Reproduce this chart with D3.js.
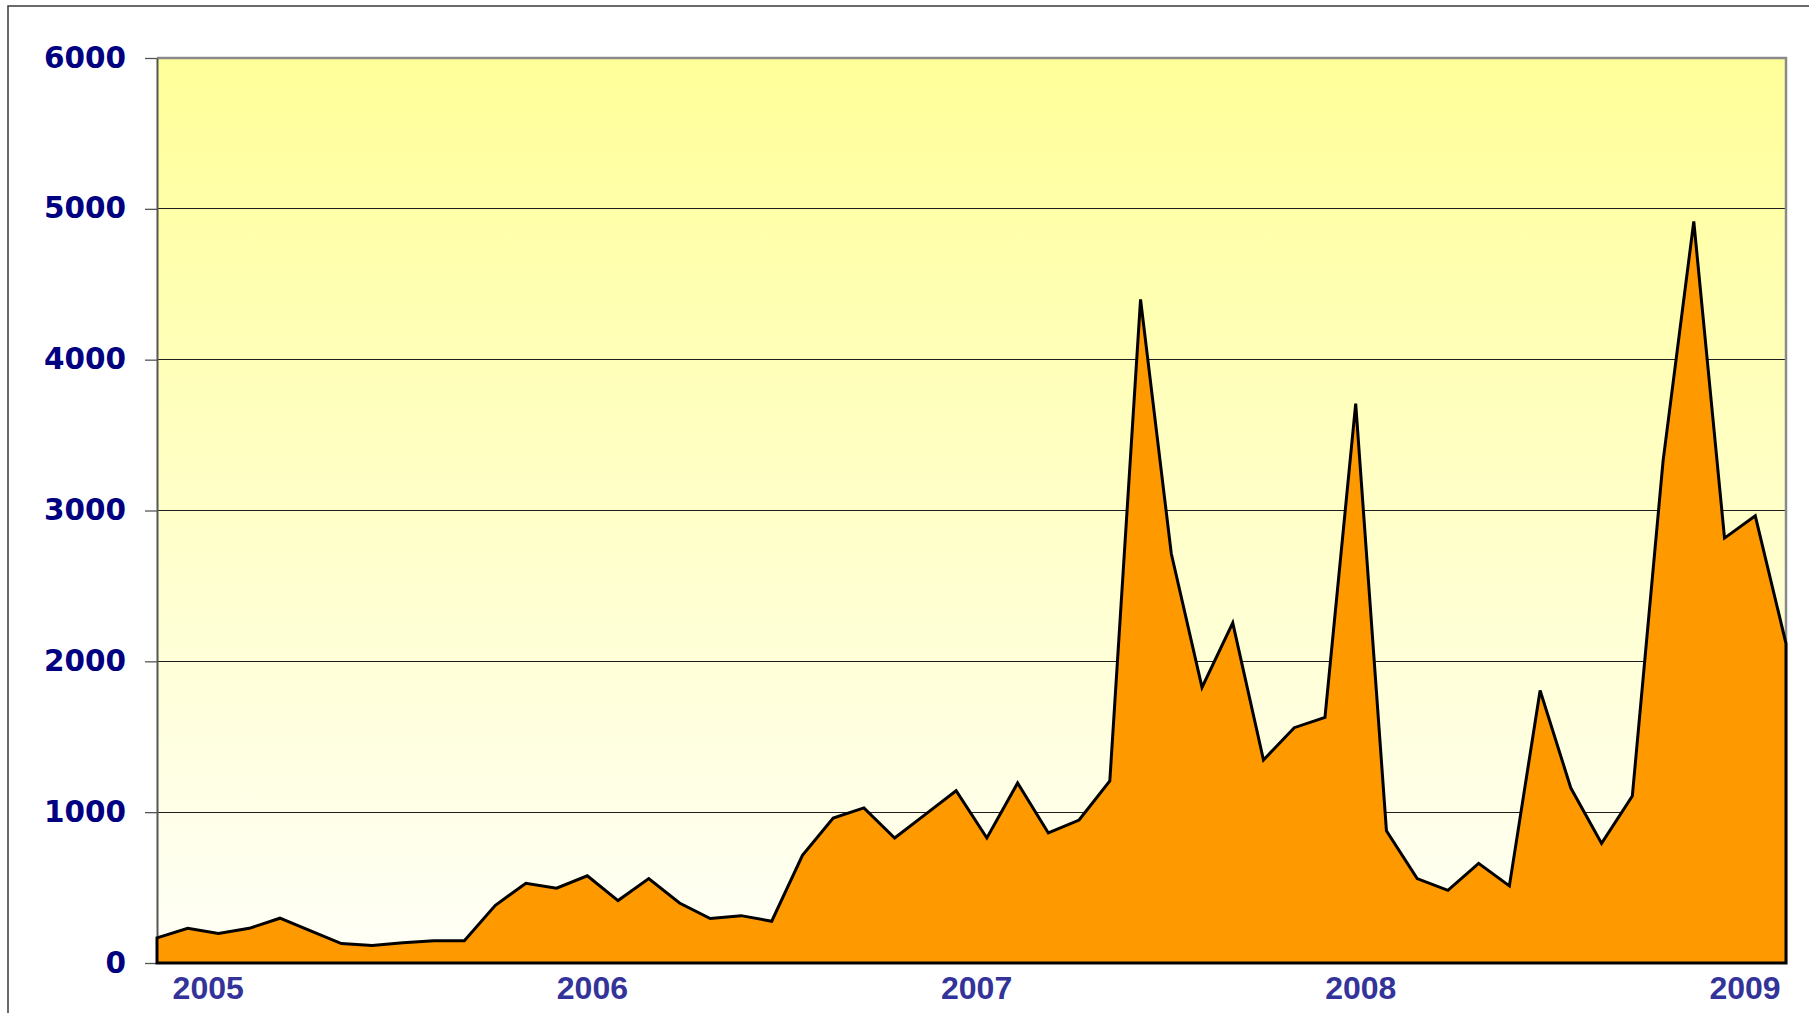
<!DOCTYPE html>
<html>
<head>
<meta charset="utf-8">
<script src="https://cdn.jsdelivr.net/npm/d3@7"></script>
<style>
    body { margin: 0; background: #fff; }
    svg { display: block; }
</style>
</head>
<body>
<svg id="chart"></svg>
<script>
// monthly values, one per point
const values = [167, 230, 195, 230, 297, 213, 129, 116, 134, 147,
    147, 381, 529, 496, 578, 414, 560, 398, 295, 314,
    277, 714, 961, 1028, 829, 985, 1142, 829, 1193, 862,
    948, 1207, 4400, 2715, 1827, 2255, 1346, 1560, 1628, 3708,
    877, 560, 482, 661, 511, 1807, 1160, 793, 1107, 3327,
    4917, 2817, 2965, 2118];
const yearLabels = ["2005", "2006", "2007", "2008", "2009"];
// where each year label sits, in point-index units
const yearPos = [1.65, 14.15, 26.65, 39.15, 51.65];
const yTicks = [0, 1000, 2000, 3000, 4000, 5000, 6000];

const width = 1809;
const height = 1013;
const margin = {top: 58, right: 23, bottom: 50, left: 157};

const svg = d3.select("#chart")
    .attr("width", width)
    .attr("height", height);

// outer frame, runs off the right and bottom edge like the original
svg.append("rect")
    .attr("x", 8).attr("y", 6)
    .attr("width", width).attr("height", height)
    .attr("fill", "none")
    .attr("stroke", "#3a3a3a")
    .attr("stroke-width", 1.5);

const x = d3.scaleLinear()
    .domain([0, values.length - 1])
    .range([margin.left, width - margin.right]);

const y = d3.scaleLinear()
    .domain([0, 6000])
    .range([height - margin.bottom, margin.top]);

// plot background gradient
const grad = svg.append("defs").append("linearGradient")
    .attr("id", "bg")
    .attr("x1", 0).attr("y1", 0).attr("x2", 0).attr("y2", 1);
grad.append("stop").attr("offset", "0%").attr("stop-color", "#FFFF99");
grad.append("stop").attr("offset", "100%").attr("stop-color", "#FFFFF8");

svg.append("rect")
    .attr("x", x.range()[0])
    .attr("y", y(6000))
    .attr("width", x.range()[1] - x.range()[0])
    .attr("height", y(0) - y(6000))
    .attr("fill", "url(#bg)");

// gridlines
svg.append("g")
    .classed("grid", true)
    .selectAll("line")
    .data(yTicks.filter(d => d > 0 && d < 6000))
    .enter().append("line")
    .attr("x1", x.range()[0])
    .attr("x2", x.range()[1])
    .attr("y1", d => y(d))
    .attr("y2", d => y(d))
    .attr("stroke", "#1e1e1e")
    .attr("stroke-width", 1)
    .attr("shape-rendering", "crispEdges");

// top and right border of the plot
svg.append("path")
    .attr("d", "M" + x.range()[0] + "," + y(6000) + "H" + x.range()[1] + "V" + y(0))
    .attr("fill", "none")
    .attr("stroke", "#8a8a8a")
    .attr("stroke-width", 2.5);

// y axis
let y_axis = svg.append("g")
    .classed("y-axis", true)
    .attr("transform", "translate(" + margin.left + ",0)")
    .call(d3.axisLeft(y).tickValues(yTicks).tickFormat(d3.format("d"))
        .tickSize(12).tickSizeOuter(0).tickPadding(19));

y_axis.select(".domain")
    .attr("stroke", "#555")
    .attr("stroke-width", 2);
y_axis.selectAll(".tick line")
    .attr("stroke", "#555")
    .attr("stroke-width", 1.3);
y_axis.selectAll("text")
    .attr("dy", null)
    .attr("y", 9)
    .attr("fill", "#000080")
    .style("font-family", "'DejaVu Sans', Verdana, sans-serif")
    .style("font-weight", "bold")
    .style("font-size", "29.5px");

// the area itself
const area = d3.area()
    .x((d, i) => x(i))
    .y0(y(0))
    .y1(d => y(d));

svg.append("path")
    .datum(values)
    .attr("d", d => area(d) + "Z")
    .attr("fill", "#FF9900")
    .attr("stroke", "#000")
    .attr("stroke-width", 3);

// x axis labels
let x_axis = svg.append("g")
    .classed("x-axis", true)
    .attr("transform", "translate(0," + y(0) + ")")
    .call(d3.axisBottom(x).tickValues(yearPos).tickSize(0).tickPadding(0)
        .tickFormat((d, i) => yearLabels[i]));

x_axis.select(".domain").remove();
x_axis.selectAll("text")
    .attr("dy", null)
    .attr("y", 36)
    .attr("fill", "#333399")
    .style("font-family", "'Liberation Sans', Arial, sans-serif")
    .style("font-weight", "bold")
    .style("font-size", "32px");
</script>
</body>
</html>
